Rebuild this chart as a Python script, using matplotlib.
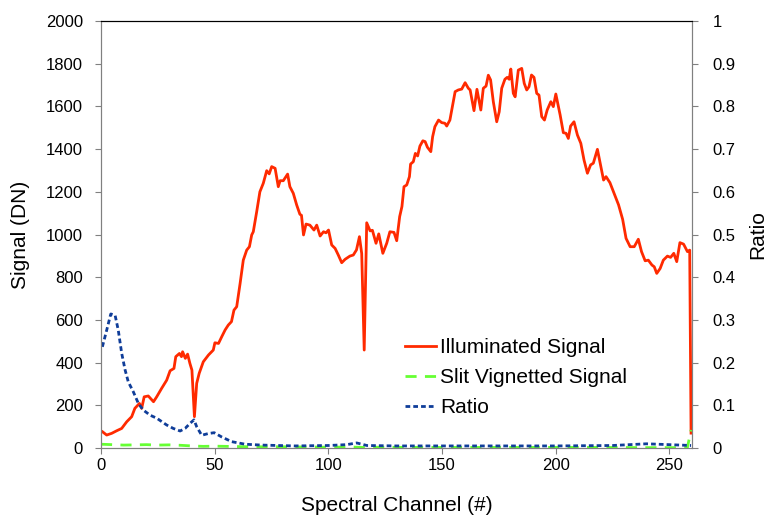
import matplotlib.pyplot as plt
from matplotlib.ticker import FuncFormatter

plt.rcParams['font.family'] = ['Liberation Sans', 'DejaVu Sans']

# Illuminated signal (DN)
chan_ill = [0.7, 2.5, 4.7, 6.9, 9.1, 11.3, 13.5, 14.9, 16.9, 17.9, 19.0, 20.8, 23.1, 24.5,
            26.7, 28.9, 30.4, 32.1, 32.9, 34.5, 35.4, 35.9, 37.1, 38.1, 39.1, 40.0, 41.1,
            42.1, 43.2, 45.0, 47.3, 49.4, 50.1, 51.7, 53.1, 54.6, 56.0, 57.4, 58.5, 59.7,
            61.2, 62.6, 64.1, 65.3, 66.3, 67.0, 68.5, 69.9, 71.4, 72.9, 74.0, 75.1, 76.6,
            78.0, 78.8, 80.2, 82.1, 83.1, 84.6, 86.1, 87.5, 88.2, 89.1, 90.2, 91.9, 93.7,
            94.9, 96.4, 97.9, 99.0, 100.1, 101.5, 103.0, 104.4, 105.9, 107.4, 109.5, 111.0,
            112.4, 113.7, 114.7, 115.8, 116.9, 118.4, 119.4, 121.0, 122.2, 124.0, 125.7,
            127.1, 128.9, 130.1, 131.4, 132.4, 133.3, 134.5, 135.7, 136.2, 137.4, 138.3,
            139.3, 140.3, 141.6, 142.6, 143.6, 145.1, 145.9, 146.9, 148.5, 149.9, 151.3,
            152.1, 153.5, 155.8, 157.2, 158.7, 160.2, 161.6, 162.4, 164.1, 165.4, 167.1,
            168.2, 169.4, 170.4, 171.4, 172.6, 174.1, 175.2, 176.3, 177.7, 178.7, 179.6,
            180.3, 181.4, 182.2, 183.6, 185.1, 186.2, 187.3, 188.3, 189.4, 190.5, 191.7,
            192.7, 193.9, 195.1, 196.3, 197.9, 199.0, 200.1, 202.0, 203.4, 204.6, 205.6,
            206.6, 208.1, 209.6, 211.1, 212.5, 214.0, 215.4, 216.6, 218.4, 219.5, 221.1,
            222.2, 223.9, 226.2, 227.7, 229.5, 231.0, 232.8, 234.6, 236.4, 237.8, 239.4,
            240.8, 242.4, 243.4, 244.5, 246.0, 247.4, 249.2, 250.6, 252.0, 253.3, 254.7,
            256.3, 258.0, 259.0, 259.6]
illuminated = [76, 61, 69, 81, 92, 123, 147, 186, 209, 186, 240, 244, 217, 240,
               280, 318, 362, 373, 428, 443, 428, 451, 420, 440, 397, 365, 147,
               303, 350, 404, 436, 459, 493, 490, 521, 553, 576, 592, 646, 662,
               771, 880, 927, 943, 998, 1013, 1107, 1200, 1240, 1299, 1284, 1318, 1310,
               1224, 1252, 1252, 1283, 1224, 1193, 1138, 1095, 1090, 998, 1049, 1044, 1021,
               1044, 993, 1013, 1008, 1021, 951, 935, 904, 868, 884, 899, 904,
               928, 990, 911, 459, 1055, 1017, 1020, 959, 1003, 912, 959,
               1013, 1010, 971, 1084, 1131, 1224, 1232, 1271, 1330, 1341, 1380,
               1368, 1414, 1439, 1435, 1409, 1388, 1458, 1505, 1536, 1524, 1521,
               1508, 1536, 1669, 1677, 1681, 1711, 1685, 1677, 1580, 1680, 1583,
               1685, 1695, 1746, 1724, 1622, 1528, 1575, 1685, 1727, 1736, 1727,
               1775, 1661, 1645, 1770, 1778, 1708, 1677, 1692, 1747, 1736, 1661,
               1653, 1552, 1536, 1583, 1622, 1599, 1658, 1560, 1477, 1474, 1450,
               1508, 1528, 1466, 1427, 1349, 1287, 1326, 1334, 1399, 1341, 1255,
               1271, 1243, 1180, 1139, 1071, 982, 943, 943, 978, 920, 877,
               880, 857, 849, 818, 841, 880, 899, 893, 912, 873, 962,
               955, 920, 927, 70]

# Slit vignetted signal (DN)
chan_slit = [0, 5, 10, 15, 20, 25, 30, 35, 40, 45, 50, 55, 60, 70, 80, 90, 100, 110,
             115, 120, 140, 160, 180, 200, 220, 240, 255, 258, 259.6]
slit = [18, 16, 14, 15, 16, 14, 15, 13, 10, 8, 9, 8, 7, 6, 6, 5, 4, 5,
        3, 4, 3, 3, 3, 3, 3, 2, 2, 3, 85]

# Ratio (right axis)
chan_ratio = [0.6, 2.5, 4.3, 6.2, 7.6, 9.1, 10.6, 12.0, 14.2, 16.4, 18.6, 21.6, 24.5,
              26.7, 28.9, 31.8, 34.8, 37.0, 39.2, 40.9, 42.1, 44.3, 47.2, 49.8, 53.1,
              57.5, 63.4, 70.7, 85.3, 100, 108, 112.5, 117, 130, 160, 200, 225, 240,
              250, 259.6]
ratio = [0.237, 0.276, 0.314, 0.311, 0.276, 0.222, 0.183, 0.155, 0.132, 0.105, 0.089,
         0.077, 0.070, 0.062, 0.054, 0.046, 0.040, 0.046, 0.058, 0.066, 0.050, 0.030,
         0.034, 0.036, 0.026, 0.015, 0.009, 0.007, 0.005, 0.006, 0.008, 0.012, 0.006,
         0.005, 0.005, 0.005, 0.006, 0.010, 0.008, 0.006]

fig, ax = plt.subplots(figsize=(7.71, 5.18), dpi=100)
fig.subplots_adjust(left=0.131, right=0.8975, bottom=0.135, top=0.9595)
ax2 = ax.twinx()

l1, = ax.plot(chan_ill, illuminated, color='#ff2a00', lw=2, label='Illuminated Signal')
l2, = ax.plot(chan_slit, slit, color='#66ff33', lw=2, dashes=(4, 3), label='Slit Vignetted Signal')
l3, = ax2.plot(chan_ratio, ratio, color='#0f3d99', lw=2, dashes=(1.7, 1.1), label='Ratio')

ax.set_xlim(0, 260)
ax.set_ylim(0, 2000)
ax2.set_ylim(0, 1)
ax.set_xticks(range(0, 251, 50))
ax.set_yticks(range(0, 2001, 200))
ax2.set_yticks([i / 10 for i in range(11)])
ax2.yaxis.set_major_formatter(FuncFormatter(lambda v, p: f'{v:g}'))

for a in (ax, ax2):
    a.tick_params(labelsize=12, direction='out', length=4, color='#808080')
    for s in a.spines.values():
        s.set_color('#808080')
ax.tick_params(axis='y', pad=9)
ax2.tick_params(axis='y', pad=11)
ax.spines['top'].set_color('black')
ax2.spines['top'].set_color('black')

ax.set_xlabel('Spectral Channel (#)', fontsize=15, labelpad=16)
ax.set_ylabel('Signal (DN)', fontsize=15)
ax.yaxis.set_label_coords(-0.12, 0.5)
ax2.set_ylabel('Ratio', fontsize=15)
ax2.yaxis.set_label_coords(1.095, 0.5)

ax.legend(handles=[l1, l2, l3], loc='upper left', bbox_to_anchor=(0.514, 0.258),
          frameon=False, fontsize=15, handlelength=1.5, handletextpad=0.2,
          labelspacing=0.54, borderpad=0, borderaxespad=0)

plt.savefig('out.png')
